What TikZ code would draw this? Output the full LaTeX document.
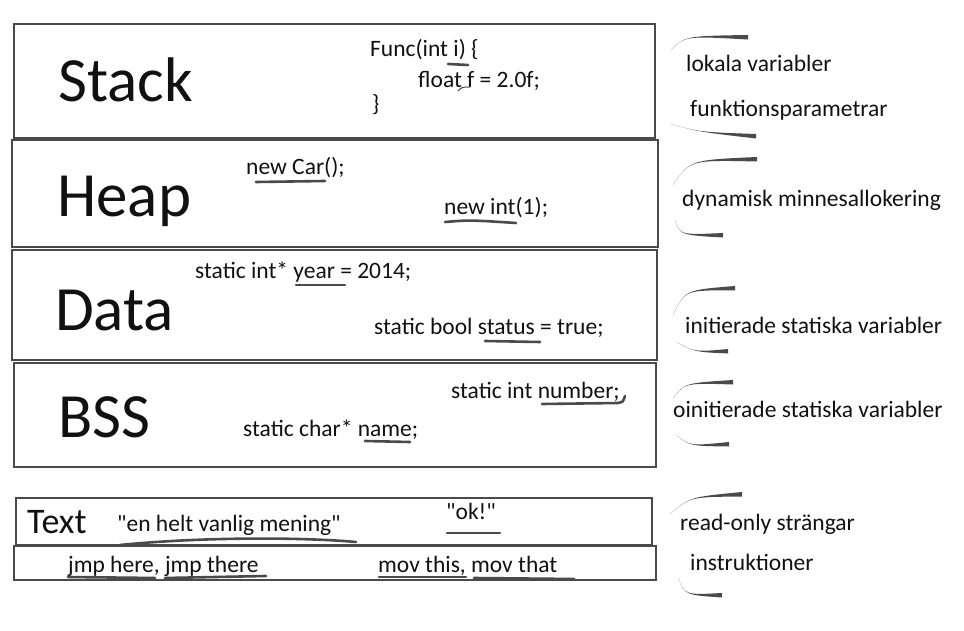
\documentclass[tikz,border=0pt]{standalone}
\usepackage{fontspec}
\setmainfont{Carlito}[Ligatures=TeXOff]
\usetikzlibrary{positioning}
\definecolor{ink}{HTML}{111111}
\definecolor{pencil}{HTML}{4A4A4A}
\tikzset{
  segbox/.style={draw=pencil,line width=1.8pt},
  seglabel/.style={anchor=base west,inner sep=0pt,text=ink,
                   font=\fontsize{63}{70}\selectfont},
  code/.style={anchor=base west,inner sep=0pt,text=ink,
               font=\fontsize{23.5}{28}\selectfont},
  note/.style={anchor=base west,inner sep=0pt,text=ink,
               font=\fontsize{23.5}{28}\selectfont},
  smudge/.style={draw=pencil,line width=2.6pt,line cap=round},
  curl/.style={fill=pencil}
}
\newcommand{\curlstroke}[3]{\fill[curl] #1 .. controls #2 .. #3 -- ++(0,4.5) .. controls #2 .. #1 -- cycle;}

\begin{document}
\begin{tikzpicture}[x=1pt,y=-1pt]
  \useasboundingbox (0,0) rectangle (964,631);
  % memory segments
  \foreach \xa/\ya/\xb/\yb in {14/24/655/138,12/140/658/247,12/250/657/360,
                               14/363/656/467,16/498/652/545,14/546/656/580} {
    \draw[segbox] (\xa,\ya) rectangle (\xb,\yb);
  }
  \node[seglabel] (stack) at (58,102) {Stack};
  \node[seglabel] (heap) at (57,217) {Heap};
  \node[seglabel] (data) at (55,330) {Data};
  \node[seglabel] (bss) at (58,437) {BSS};
  \node[seglabel,font=\fontsize{36}{40}\selectfont] (text) at (27,533) {Text};

  % code in each segment
  \node[code] (func) at (370,57) {Func(int i) \{};
  \node[code] (float) at (418,88) {float f = 2.0f;};
  \node[code] (close) at (372,112) {\}};
  \node[code] (newcar) at (246,175) {new Car();};
  \node[code] (newint) at (444,215) {new int(1);};
  \node[code] (year) at (195,278) {static int* year = 2014;};
  \node[code] (status) at (374,334) {static bool status = true;};
  \node[code] (number) at (451,398) {static int number;};
  \node[code] (name) at (243,436) {static char* name;};
  \node[code] (mening) at (117,531) {"en helt vanlig mening"};
  \node[code] (ok) at (446,519) {"ok!"};
  \node[code] (jmp) at (68,572) {jmp here, jmp there};
  \node[code] (mov) at (378,572) {mov this, mov that};

  % underlines
  \draw[smudge] (448,64) -- (468,65);
  \draw[smudge,line width=1pt] (458,91) .. controls (462,87) .. (470,87);
  \draw[smudge] (256,182) -- (325,181);
  \draw[smudge] (445,222) .. controls (470,220) .. (516,223);
  \draw[smudge] (296,285) -- (345,285);
  \draw[smudge] (485,341) -- (540,342);
  \draw[smudge] (542,404) -- (618,403) .. controls (623,402) .. (625,396);
  \draw[smudge] (365,441) -- (410,442);
  \draw[smudge] (120,545) .. controls (200,537) and (300,537) .. (356,542);
  \draw[smudge] (447,533) -- (500,533);
  \draw[smudge] (68,577) -- (155,578);
  \draw[smudge] (165,578) -- (266,576);
  \draw[smudge] (379,577) -- (466,577);
  \draw[smudge] (474,578) -- (574,579);

  % what each segment holds
  \node[note] (lokala) at (686,72) {lokala variabler};
  \node[note] (param) at (690,117) {funktionsparametrar};
  \node[note] (dynamisk) at (682,207) {dynamisk minnesallokering};
  \node[note] (init) at (685,333) {initierade statiska variabler};
  \node[note] (oinit) at (673,417) {oinitierade statiska variabler};
  \node[note] (readonly) at (680,530) {read-only strängar};
  \node[note] (instr) at (690,570) {instruktioner};

  % brace strokes
  \curlstroke{(671,50)}{(685,36)}{(748,35)}
  \curlstroke{(670,124)}{(700,132)}{(756,134)}
  \curlstroke{(673,185)}{(690,160)}{(757,157)}
  \curlstroke{(675,220)}{(680,235)}{(723,233)}
  \curlstroke{(673,315)}{(685,290)}{(735,286)}
  \curlstroke{(676,342)}{(695,352)}{(728,349)}
  \curlstroke{(673,398)}{(685,383)}{(733,380)}
  \curlstroke{(676,435)}{(690,446)}{(729,442)}
  \curlstroke{(670,514)}{(690,497)}{(742,492)}
  \curlstroke{(678,578)}{(685,595)}{(722,593)}
\end{tikzpicture}
\end{document}
